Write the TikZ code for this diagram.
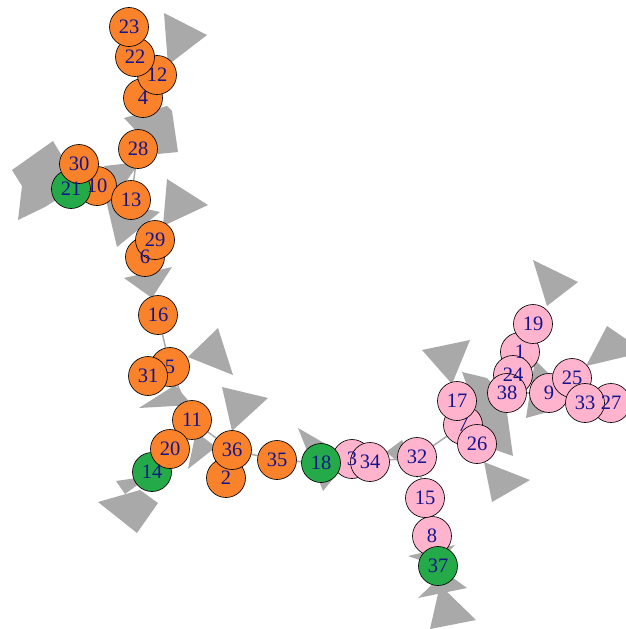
\documentclass[tikz,border=0pt]{standalone}
\usepackage{fontspec}
\setmainfont{Liberation Serif}
\usetikzlibrary{backgrounds}
\definecolor{grporange}{HTML}{F9822B}
\definecolor{grppink}{HTML}{FFB3CC}
\definecolor{grpgreen}{HTML}{25AA4A}
\definecolor{labelblue}{HTML}{14148C}
\definecolor{linkgray}{HTML}{A9A9A9}
\tikzset{
  vtx/.style={circle, draw=black, line width=0.65pt, minimum size=39pt,
    inner sep=0pt, text=labelblue, font=\fontsize{20.5}{20.5}\selectfont},
  orv/.style={vtx, fill=grporange},
  pkv/.style={vtx, fill=grppink},
  grv/.style={vtx, fill=grpgreen},
  vlabel/.style={inner sep=0pt, text=labelblue,
    font=\fontsize{20.5}{20.5}\selectfont},
  link/.style={draw=linkgray, line width=1.5pt},
  head/.style={fill=linkgray, draw=none},
}
\begin{document}
\begin{tikzpicture}[x=1pt, y=-1pt]
\useasboundingbox (0,0) rectangle (626,629);
\clip (0,0) rectangle (626,629);
% vertex discs, drawn in index order (5 and 7 carry their own labels,
% which later discs partly cover)
\node[pkv] (n1)  at (520,352) {};
\node[orv] (n2)  at (226,478) {};
\node[pkv] (n3)  at (352,459) {};
\node[orv] (n4)  at (143,98)  {};
\node[orv] (n5)  at (170,367) {5};
\node[orv] (n6)  at (145,257) {};
\node[pkv] (n7)  at (463,425) {7};
\node[pkv] (n8)  at (432,536) {};
\node[pkv] (n9)  at (549,393) {};
\node[orv] (n10) at (97,186)  {};
\node[orv] (n11) at (192,420) {};
\node[orv] (n12) at (157,75)  {};
\node[orv] (n13) at (131,200) {};
\node[grv] (n14) at (152,472) {};
\node[pkv] (n15) at (425,498) {};
\node[orv] (n16) at (158,315) {};
\node[pkv] (n17) at (457,401) {};
\node[grv] (n18) at (321,463) {};
\node[pkv] (n19) at (533,324) {};
\node[orv] (n20) at (170,449) {};
\node[grv] (n21) at (71,189)  {};
\node[orv] (n22) at (135,57)  {};
\node[orv] (n23) at (129,27)  {};
\node[pkv] (n24) at (513,375) {};
\node[pkv] (n25) at (572,378) {};
\node[pkv] (n26) at (477,444) {};
\node[pkv] (n27) at (611,403) {};
\node[orv] (n28) at (138,149) {};
\node[orv] (n29) at (155,240) {};
\node[orv] (n30) at (79,164)  {};
\node[orv] (n31) at (148,376) {};
\node[pkv] (n32) at (417,457) {};
\node[pkv] (n33) at (585,403) {};
\node[pkv] (n34) at (370,462) {};
\node[orv] (n35) at (277,460) {};
\node[orv] (n36) at (232,450) {};
\node[grv] (n37) at (438,566) {};
\node[pkv] (n38) at (507,393) {};
% remaining labels, set above all discs
\foreach \i in {1,2,3,4,6,8,9,10,11,12,13,14,15,16,17,18,19,20,21,22,23,24,25,
    26,27,28,29,30,31,32,33,34,35,36,37,38}
  \node[vlabel] (t\i) at (n\i) {\i};
\begin{scope}[on background layer]
  % arrow heads
  \fill[head] (164,13) -- (207,35) -- (168,65) -- cycle;
  \fill[head] (124,118) -- (167,106) -- (172,111) -- (178,152) -- (158,154) -- cycle;
  \fill[head] (104,166) -- (140,162) -- (120,190) -- cycle;
  \fill[head] (167,179) -- (208,205) -- (163,226) -- cycle;
  \fill[head] (106,200) -- (117,247) -- (160,212) -- cycle;
  \fill[head] (124,278) -- (172,267) -- (152,298) -- cycle;
  \fill[head] (188,357) -- (218,328) -- (233,375) -- cycle;
  \fill[head] (139,408) -- (175,385) -- (192,405) -- cycle;
  \fill[head] (196,432) -- (216,447) -- (188,469) -- cycle;
  \fill[head] (222,387) -- (268,398) -- (232,431) -- cycle;
  \fill[head] (298,428) -- (323,491) -- (350,458) -- cycle;
  \fill[head] (386,452) -- (402,440) -- (418,478) -- cycle;
  \fill[head] (422,350) -- (470,340) -- (452,384) -- cycle;
  \fill[head] (462,372) -- (487,378) -- (505,398) -- (513,456) -- (490,448) -- cycle;
  \fill[head] (484,462) -- (530,480) -- (492,502) -- cycle;
  \fill[head] (533,260) -- (578,282) -- (547,306) -- cycle;
  \fill[head] (607,326) -- (645,352) -- (586,366) -- cycle;
  \fill[head] (535,360) -- (551,376) -- (555,410) -- (526,418) -- cycle;
  \fill[head] (418,598) -- (467,588) -- (445,572) -- cycle;
  \fill[head] (430,629) -- (476,620) -- (440,585) -- cycle;
  \fill[head] (408,556) -- (455,545) -- (435,565) -- cycle;
  \fill[head] (116,481) -- (150,476) -- (125,494) -- cycle;
  \fill[head] (98,502) -- (137,533) -- (158,503) -- (140,490) -- cycle;
  \fill[head] (12,170) -- (53,141) -- (62,156) -- (56,200) -- (45,207) -- (18,220) -- (22,186) -- cycle;
  % links
  \foreach \a/\b in {23/22,22/12,12/4,4/28,28/13,13/10,10/30,10/21,13/29,
      29/6,6/16,16/5,5/31,5/11,11/20,20/14,11/36,36/2,36/35,35/18,18/3,
      3/34,34/32,32/15,15/8,8/37,32/7,7/17,7/26,26/38,38/24,24/1,1/19,
      38/9,9/25,25/33,33/27}
    \draw[link] (n\a) -- (n\b);
\end{scope}
\end{tikzpicture}
\end{document}
